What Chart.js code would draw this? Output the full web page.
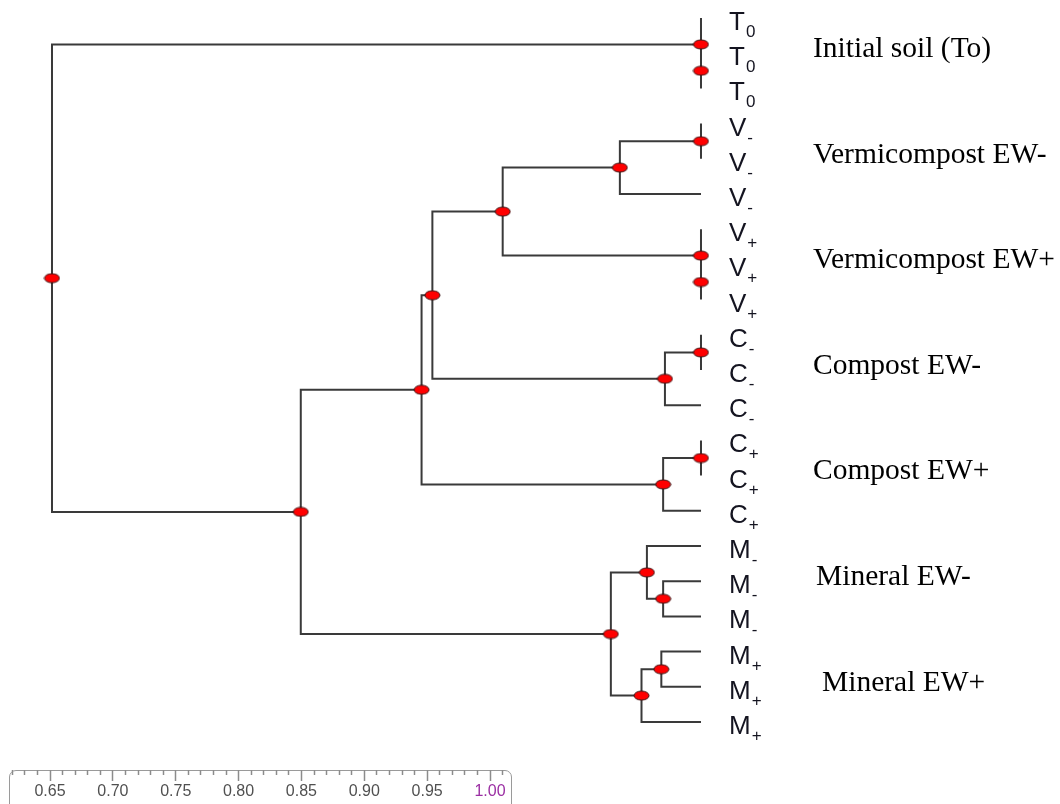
<!DOCTYPE html>
<html lang="en">
  <head>
    <meta charset="UTF-8" />
    <title>Cluster dendrogram</title>
    <style>
      html,
      body {
        margin: 0;
        padding: 0;
        background: #fff;
        overflow: hidden;
      }
      #wrap {
        position: relative;
        width: 1060px;
        height: 804px;
      }
      #tree {
        position: absolute;
        left: 0;
        top: 0;
      }
      #rulerBox {
        position: absolute;
        left: 9px;
        top: 770px;
        width: 503px;
        height: 70px;
        border: 1.5px solid #9a9a9a;
        border-radius: 7px;
        box-sizing: border-box;
      }
      #ruler {
        position: absolute;
        left: 10px;
        top: 750px;
      }
    </style>
    <script src="https://cdn.jsdelivr.net/npm/chart.js"></script>
  </head>
  <body>
    <div id="wrap">
      <canvas id="tree" width="1060" height="804"></canvas>
      <div id="rulerBox"></div>
      <canvas id="ruler" width="502" height="80"></canvas>
    </div>

    <script>
      // treatment groups, three replicates each (leaf order top to bottom)
      const groupLetters = ["T", "V", "V", "C", "C", "M", "M"];
      const groupSubs = ["0", "-", "+", "-", "+", "-", "+"];
      const groupNames = [
        "Initial soil (To)",
        "Vermicompost EW-",
        "Vermicompost EW+",
        "Compost EW-",
        "Compost EW+",
        "Mineral EW-",
        "Mineral EW+",
      ];
      const replicates = 3;

      // merges: node (21 + i) joins mergeA[i] and mergeB[i] at similarity[i]
      // ids 0..20 are the leaves
      const mergeA = [1, 0, 3, 23, 7, 6, 24, 9, 28, 27, 12, 31, 30, 16, 15, 18, 36, 35, 33, 22];
      const mergeB = [2, 21, 4, 5, 8, 25, 26, 10, 11, 29, 13, 14, 32, 17, 34, 19, 20, 37, 38, 39];
      const similarity = [
        1.0, 1.0, 1.0, 0.955, 1.0, 1.0, 0.89, 1.0, 0.98, 0.851, 1.0, 0.979,
        0.845, 0.979, 0.97, 0.978, 0.967, 0.95, 0.778, 0.64,
      ];

      // ruler ticks
      const rulerStep = 0.01;
      const rulerMajor = 0.05;

      const leafCount = groupLetters.length * replicates;

      // position of each leaf / node in (similarity, leaf index) space
      const nodes = [];
      for (let i = 0; i < leafCount; i++) nodes.push({ x: 1.0, y: i });
      for (let i = 0; i < similarity.length; i++) {
        const a = nodes[mergeA[i]];
        const b = nodes[mergeB[i]];
        nodes.push({ x: similarity[i], y: (a.y + b.y) / 2 });
      }

      // branch paths, one ⊐ shape per merge, broken by null points
      const branchData = [];
      const dotData = [];
      for (let i = 0; i < similarity.length; i++) {
        const a = nodes[mergeA[i]];
        const b = nodes[mergeB[i]];
        const s = similarity[i];
        branchData.push(
          { x: a.x, y: a.y },
          { x: s, y: a.y },
          { x: s, y: b.y },
          { x: b.x, y: b.y },
          { x: s, y: null }
        );
        dotData.push(nodes[leafCount + i]);
      }

      // red node marker
      const dot = document.createElement("canvas");
      dot.width = 17;
      dot.height = 11;
      const dctx = dot.getContext("2d");
      dctx.beginPath();
      dctx.ellipse(8.5, 5.5, 7.5, 4.5, 0, 0, Math.PI * 2);
      dctx.fillStyle = "#ff0000";
      dctx.fill();
      dctx.lineWidth = 1;
      dctx.strokeStyle = "#3a1414";
      dctx.stroke();

      const labelPlugin = {
        id: "treeLabels",
        afterDatasetsDraw(chart) {
          const { ctx } = chart;
          const x = chart.scales.x;
          const y = chart.scales.y;
          const leafX = x.getPixelForValue(1.0);
          ctx.save();
          ctx.fillStyle = "#141420";
          ctx.textBaseline = "alphabetic";
          for (let i = 0; i < leafCount; i++) {
            const g = Math.floor(i / replicates);
            const py = y.getPixelForValue(i) + 12;
            const px = leafX + 28;
            ctx.font = '26px "Liberation Sans", Arial, sans-serif';
            ctx.fillText(groupLetters[g], px, py);
            const w = ctx.measureText(groupLetters[g]).width;
            ctx.font = '17px "Liberation Sans", Arial, sans-serif';
            ctx.fillText(groupSubs[g], px + w + 1, py + 7);
          }
          ctx.fillStyle = "#000";
          ctx.font = '29.5px "Liberation Serif", "Times New Roman", serif';
          ctx.textBaseline = "middle";
          const indent = [0, 0, 0, 0, 0, 3, 9];
          for (let g = 0; g < groupNames.length; g++) {
            const mid = y.getPixelForValue(g * replicates + 1) - 4;
            ctx.fillText(groupNames[g], leafX + 112 + indent[g], mid);
          }
          ctx.restore();
        },
      };

      new Chart(document.getElementById("tree"), {
        type: "scatter",
        data: {
          datasets: [
            {
              label: "nodes",
              data: dotData,
              pointStyle: dot,
              pointRadius: 6,
              order: 0,
            },
            {
              label: "branches",
              data: branchData,
              showLine: true,
              spanGaps: false,
              pointRadius: 0,
              borderColor: "#3a3a3a",
              borderWidth: 2,
              borderJoinStyle: "miter",
              order: 1,
            },
          ],
        },
        options: {
          responsive: false,
          animation: false,
          layout: { padding: 0, autoPadding: false },
          plugins: { legend: { display: false }, tooltip: { enabled: false } },
          scales: {
            x: { type: "linear", display: false, min: 0.61116, max: 1.19914 },
            y: { type: "linear", display: false, reverse: true, min: -0.51136, max: 22.3295 },
          },
        },
        plugins: [labelPlugin],
      });

      const isMajor = (v) => Math.round(v * 100) % Math.round(rulerMajor * 100) === 0;

      new Chart(document.getElementById("ruler"), {
        type: "scatter",
        data: { datasets: [] },
        options: {
          responsive: false,
          animation: false,
          layout: { padding: 0, autoPadding: false },
          plugins: { legend: { display: false }, tooltip: { enabled: false } },
          scales: {
            x: {
              type: "linear",
              position: "bottom",
              min: 0.61818,
              max: 1.0175,
              afterFit: (scale) => {
                scale.height = 60;
              },
              border: { display: false },
              grid: {
                drawOnChartArea: false,
                drawTicks: true,
                tickLength: 11,
                tickWidth: 1.5,
                tickColor: "#8c8c8c",
                tickBorderDash: (ctx) => (ctx.tick && isMajor(ctx.tick.value) ? [] : [5, 40]),
              },
              ticks: {
                stepSize: rulerStep,
                includeBounds: false,
                autoSkip: false,
                maxRotation: 0,
                minRotation: 0,
                padding: 1,
                font: { family: "Liberation Sans", size: 16 },
                color: (ctx) => (ctx.tick && ctx.tick.value > 0.995 ? "#9b2fa3" : "#505050"),
                callback: (v) => (isMajor(v) ? Number(v).toFixed(2) : ""),
              },
            },
            y: { display: false },
          },
        },
      });
    </script>
  </body>
</html>
